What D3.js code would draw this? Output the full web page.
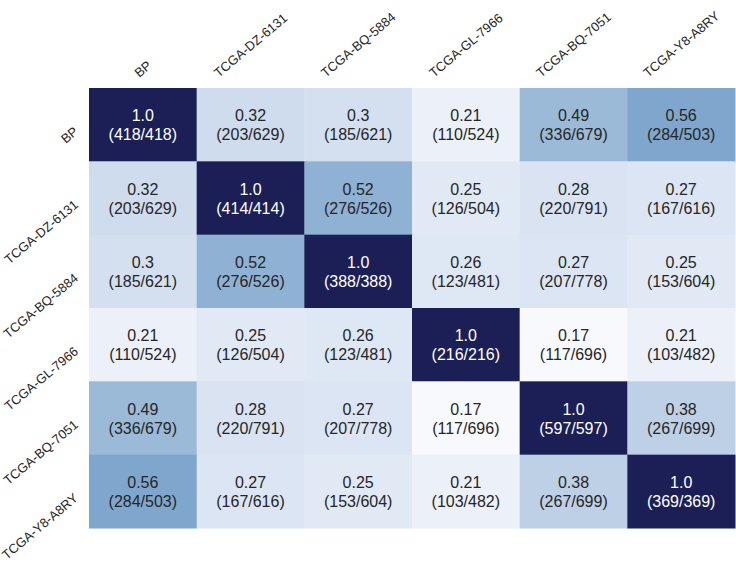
<!DOCTYPE html>
<html>
<head>
<meta charset="utf-8">
<script src="https://cdn.jsdelivr.net/npm/d3@7"></script>
<style>
  html, body { margin: 0; padding: 0; background: #ffffff; }
  svg { display: block; font-family: "Liberation Sans", Arial, sans-serif; }
</style>
</head>
<body>
<svg id="chart" width="736" height="564"></svg>
<script>
const labels = ["BP", "TCGA-DZ-6131", "TCGA-BQ-5884", "TCGA-GL-7966", "TCGA-BQ-7051", "TCGA-Y8-A8RY"];
const ratios = [
  [1.0, 0.32, 0.3, 0.21, 0.49, 0.56],
  [0.32, 1.0, 0.52, 0.25, 0.28, 0.27],
  [0.3, 0.52, 1.0, 0.26, 0.27, 0.25],
  [0.21, 0.25, 0.26, 1.0, 0.17, 0.21],
  [0.49, 0.28, 0.27, 0.17, 1.0, 0.38],
  [0.56, 0.27, 0.25, 0.21, 0.38, 1.0]
];
const shared = [
  ["418/418", "203/629", "185/621", "110/524", "336/679", "284/503"],
  ["203/629", "414/414", "276/526", "126/504", "220/791", "167/616"],
  ["185/621", "276/526", "388/388", "123/481", "207/778", "153/604"],
  ["110/524", "126/504", "123/481", "216/216", "117/696", "103/482"],
  ["336/679", "220/791", "207/778", "117/696", "597/597", "267/699"],
  ["284/503", "167/616", "153/604", "103/482", "267/699", "369/369"]
];
const colorStops = [0.17, 0.21, 0.32, 0.49, 0.56, 1.0];
const colorRange = ["#f7f9fd", "#ebf0f9", "#cfdcee", "#9bbad7", "#7fa6cd", "#1b1f55"];

const svg = d3.select("#chart");
const gLeft = 89, gRight = 735, gTop = 88, gBottom = 528;

const x = d3.scaleBand().domain(d3.range(labels.length)).range([gLeft, gRight]);
const y = d3.scaleBand().domain(d3.range(labels.length)).range([gTop, gBottom]);
const color = d3.scaleLinear().domain(colorStops).range(colorRange).clamp(true);

const cells = [];
ratios.forEach((row, i) => row.forEach((v, j) => cells.push({i, j, v, s: shared[i][j]})));

const g = svg.append("g");
g.selectAll("rect").data(cells).join("rect")
  .attr("x", d => x(d.j))
  .attr("y", d => y(d.i))
  .attr("width", x.bandwidth() + 0.5)
  .attr("height", y.bandwidth() + 0.5)
  .attr("fill", d => color(d.v));

const txt = g.selectAll("text.cell").data(cells).join("text")
  .attr("class", "cell")
  .attr("text-anchor", "middle")
  .attr("font-size", 16)
  .attr("fill", d => d.v > 0.8 ? "#ffffff" : "#262626");
txt.append("tspan")
  .attr("x", d => x(d.j) + x.bandwidth() / 2)
  .attr("y", d => y(d.i) + y.bandwidth() / 2 - 3.5)
  .text(d => d.v === 1 ? "1.0" : String(d.v));
txt.append("tspan")
  .attr("x", d => x(d.j) + x.bandwidth() / 2)
  .attr("y", d => y(d.i) + y.bandwidth() / 2 + 15.5)
  .text(d => "(" + d.s + ")");

// Labels rotated 40 degrees
const theta = 40 * Math.PI / 180, c = Math.cos(theta), s = Math.sin(theta);
const fs = 13, capH = 0.72 * fs;

// Column labels (top)
labels.forEach((lab, j) => {
  const t = svg.append("text").attr("font-size", fs).attr("fill", "#262626").text(lab);
  const w = t.node().getComputedTextLength();
  const cx = x(j) + x.bandwidth() / 2;
  const px = cx - (w * c - capH * s) / 2;
  const py = 78;
  t.attr("transform", `translate(${px},${py}) rotate(-40)`);
});

// Row labels (left)
labels.forEach((lab, i) => {
  const t = svg.append("text").attr("font-size", fs).attr("fill", "#262626").text(lab);
  const w = t.node().getComputedTextLength();
  const cy = y(i) + y.bandwidth() / 2;
  const px = 79 - w * c;
  const py = cy + 1 + w * s + capH * c;
  t.attr("transform", `translate(${px},${py}) rotate(-40)`);
});
</script>
</body>
</html>
